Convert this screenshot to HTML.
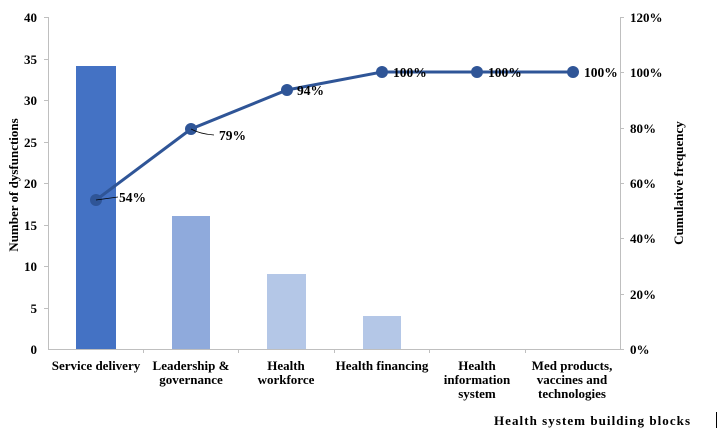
<!DOCTYPE html>
<html><head><style>body{margin:0;background:#fff}svg{display:block}text{font-family:"Liberation Serif",serif;font-weight:bold;fill:#000}</style></head><body>
<svg width="724" height="443" viewBox="0 0 724 443">
<g stroke="#bfbfbf" stroke-width="1">
<line x1="48.5" y1="17" x2="48.5" y2="349"/>
<line x1="620.5" y1="17" x2="620.5" y2="349"/>
<line x1="48" y1="349.5" x2="621" y2="349.5"/>
<line x1="44" y1="17.5" x2="48" y2="17.5"/><line x1="44" y1="59.5" x2="48" y2="59.5"/><line x1="44" y1="100.5" x2="48" y2="100.5"/><line x1="44" y1="142.5" x2="48" y2="142.5"/><line x1="44" y1="183.5" x2="48" y2="183.5"/><line x1="44" y1="225.5" x2="48" y2="225.5"/><line x1="44" y1="266.5" x2="48" y2="266.5"/><line x1="44" y1="308.5" x2="48" y2="308.5"/>
<line x1="620" y1="17.5" x2="624" y2="17.5"/><line x1="620" y1="72.5" x2="624" y2="72.5"/><line x1="620" y1="128.5" x2="624" y2="128.5"/><line x1="620" y1="183.5" x2="624" y2="183.5"/><line x1="620" y1="238.5" x2="624" y2="238.5"/><line x1="620" y1="294.5" x2="624" y2="294.5"/><line x1="620" y1="349.5" x2="624" y2="349.5"/>
<line x1="143.5" y1="349" x2="143.5" y2="353"/><line x1="238.5" y1="349" x2="238.5" y2="353"/><line x1="334.5" y1="349" x2="334.5" y2="353"/><line x1="429.5" y1="349" x2="429.5" y2="353"/><line x1="525.5" y1="349" x2="525.5" y2="353"/>
</g>
<line x1="716.5" y1="412" x2="716.5" y2="428" stroke="#000"/>
<rect x="76" y="66" width="40" height="283" fill="#4472c4"/>
<rect x="172" y="216" width="38" height="133" fill="#8faadc"/>
<rect x="267" y="274" width="39" height="75" fill="#b4c7e7"/>
<rect x="363" y="316" width="38" height="33" fill="#b4c7e7"/>
<g font-size="13" text-anchor="end">
<text x="37" y="22">40</text><text x="37" y="64">35</text><text x="37" y="105">30</text><text x="37" y="147">25</text><text x="37" y="188">20</text><text x="37" y="230">15</text><text x="37" y="271">10</text><text x="37" y="313">5</text><text x="37" y="354">0</text>
</g>
<g font-size="13">
<text x="630" y="22">120%</text><text x="630" y="77">100%</text><text x="630" y="133">80%</text><text x="630" y="188">60%</text><text x="630" y="243">40%</text><text x="630" y="299">20%</text><text x="630" y="354">0%</text>
</g>
<text transform="translate(18,185) rotate(-90)" font-size="13" text-anchor="middle">Number of dysfunctions</text>
<text transform="translate(683,183) rotate(-90)" font-size="13" text-anchor="middle">Cumulative frequency</text>
<g font-size="13" text-anchor="middle">
<text x="96" y="370">Service delivery</text>
<text x="191" y="370">Leadership &amp;</text><text x="191" y="384">governance</text>
<text x="286" y="370">Health</text><text x="286" y="384">workforce</text>
<text x="382" y="370">Health financing</text>
<text x="477" y="370">Health</text><text x="477" y="384">information</text><text x="477" y="398">system</text>
<text x="572" y="370">Med products,</text><text x="572" y="384">vaccines and</text><text x="572" y="398">technologies</text>
</g>
<text x="494" y="425" font-size="13" textLength="196" lengthAdjust="spacing">Health system building blocks</text>
<polyline points="96,200 191,129 287,90 382,72 477,72 573,72" fill="none" stroke="#2f5597" stroke-width="3"/>
<g fill="#2f5597"><circle cx="96" cy="200" r="6"/><circle cx="191" cy="129" r="6"/><circle cx="287" cy="90" r="6"/><circle cx="382" cy="72" r="6"/><circle cx="477" cy="72" r="6"/><circle cx="573" cy="72" r="6"/></g>
<g stroke="#000" stroke-width="0.8" fill="none"><line x1="96" y1="200" x2="118" y2="197"/><path d="M191,129 Q200,134 214,135"/></g>
<g font-size="13.5">
<text x="119" y="202">54%</text><text x="219" y="140">79%</text><text x="297" y="95">94%</text><text x="393" y="77">100%</text><text x="488" y="77">100%</text><text x="584" y="77">100%</text>
</g>
</svg>
</body></html>
